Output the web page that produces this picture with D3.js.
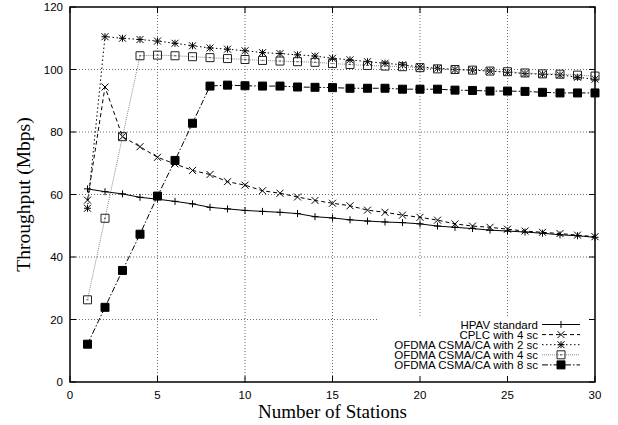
<!DOCTYPE html>
<html>
<head>
<meta charset="utf-8">
<script src="https://cdn.jsdelivr.net/npm/d3@7"></script>
<style>
  body { margin: 0; background: #fff; }
  text { font-family: "Liberation Sans", Arial, sans-serif; }
</style>
</head>
<body>
<div id="chart"></div>
<script>
let width = 618, height = 425;
let margin = {left: 70, right: 23, top: 7, bottom: 43};

// data
let stations = [1,2,3,4,5,6,7,8,9,10,11,12,13,14,15,16,17,18,19,20,21,22,23,24,25,26,27,28,29,30];
let hpav = [61.8,60.9,60.2,59.1,58.5,57.8,57.0,55.9,55.4,54.9,54.6,54.3,53.9,52.9,52.5,51.9,51.5,51.2,51.0,50.6,49.9,49.5,49.1,48.6,48.3,48.0,47.6,47.1,46.8,46.3];
let cplc4 = [58.2,94.4,78.5,75.3,71.9,69.8,67.7,66.4,64.1,63.0,61.2,60.4,59.2,58.1,57.2,56.4,55.0,54.3,53.4,52.7,51.8,50.6,49.9,49.5,48.9,48.3,47.9,47.5,47.0,46.5];
let ofdma2 = [55.6,110.5,110.0,109.6,109.1,108.4,107.6,106.9,106.5,106.0,105.4,105.1,104.7,104.3,103.6,103.1,102.5,102.0,101.5,100.8,100.4,100.0,99.8,99.5,99.1,98.7,98.5,98.3,97.5,96.9];
let ofdma4 = [26.3,52.4,78.5,104.4,104.6,104.4,104.1,103.8,103.5,103.2,102.9,102.7,102.5,102.3,101.9,101.6,101.3,101.1,100.9,100.6,100.2,100.0,99.8,99.5,99.3,98.9,98.6,98.5,98.2,97.9];
let ofdma8 = [12.1,23.9,35.7,47.3,59.5,70.9,82.8,94.7,95.0,94.8,94.7,94.7,94.4,94.3,94.2,94.0,94.0,94.0,93.7,93.7,93.7,93.4,93.3,93.1,93.1,93.0,92.7,92.5,92.5,92.5];

let xTicks = [0,5,10,15,20,25,30];
let yTicks = [0,20,40,60,80,100,120];

let seriesNames = ["HPAV standard", "CPLC with 4 sc", "OFDMA CSMA/CA with 2 sc", "OFDMA CSMA/CA with 4 sc", "OFDMA CSMA/CA with 8 sc"];
let seriesValues = [hpav, cplc4, ofdma2, ofdma4, ofdma8];
let seriesMarks = ["plus", "cross", "star", "box", "fbox"];
let seriesDash = [null, "4,3", "1.5,2.5", "1,1", "6,2,1.5,2"];
let seriesColor = ["#000", "#000", "#000", "#8a8a8a", "#000"];

let svg = d3.select("#chart")
  .append("svg")
  .attr("width", width)
  .attr("height", height);

let x = d3.scaleLinear().domain([0, 30]).range([margin.left, width - margin.right]);
let y = d3.scaleLinear().domain([0, 120]).range([height - margin.bottom, margin.top]);

// grid
let grid = svg.append("g");
xTicks.slice(1, -1).forEach(function (t) {
  grid.append("line")
    .attr("x1", x(t)).attr("x2", x(t))
    .attr("y1", y(0)).attr("y2", y(120))
    .attr("stroke", "#444").attr("stroke-width", 0.8)
    .attr("stroke-dasharray", "1,2");
});
yTicks.slice(1, -1).forEach(function (t) {
  grid.append("line")
    .attr("x1", x(0)).attr("x2", x(30))
    .attr("y1", y(t)).attr("y2", y(t))
    .attr("stroke", "#444").attr("stroke-width", 0.8)
    .attr("stroke-dasharray", "1,2");
});

// key area covers the grid
svg.append("rect")
  .attr("x", 377).attr("y", 316)
  .attr("width", x(30) - 377).attr("height", y(0) - 316)
  .attr("fill", "#fff");

// tick marks, mirrored on all sides
let tk = svg.append("g").attr("stroke", "#000").attr("stroke-width", 1);
xTicks.forEach(function (t) {
  tk.append("line").attr("x1", x(t)).attr("x2", x(t)).attr("y1", y(0)).attr("y2", y(0) - 6);
  tk.append("line").attr("x1", x(t)).attr("x2", x(t)).attr("y1", y(120)).attr("y2", y(120) + 6);
});
yTicks.forEach(function (t) {
  tk.append("line").attr("x1", x(0)).attr("x2", x(0) + 6).attr("y1", y(t)).attr("y2", y(t));
  tk.append("line").attr("x1", x(30)).attr("x2", x(30) - 6).attr("y1", y(t)).attr("y2", y(t));
});

// tick labels
svg.append("g").selectAll("text")
  .data(xTicks).enter().append("text")
  .attr("x", d => x(d)).attr("y", y(0) + 17)
  .attr("text-anchor", "middle")
  .attr("font-size", "11.5px")
  .text(d => d);
svg.append("g").selectAll("text")
  .data(yTicks).enter().append("text")
  .attr("x", x(0) - 7).attr("y", d => y(d) + 4)
  .attr("text-anchor", "end")
  .attr("font-size", "11.5px")
  .text(d => d);

// axis titles
svg.append("text")
  .attr("x", (x(0) + x(30)) / 2).attr("y", 418)
  .attr("text-anchor", "middle")
  .style("font-family", "'Liberation Serif', 'Times New Roman', serif")
  .attr("font-size", "19px")
  .text("Number of Stations");
svg.append("text")
  .attr("transform", `translate(30,${(y(0) + y(120)) / 2}) rotate(-90)`)
  .attr("text-anchor", "middle")
  .style("font-family", "'Liberation Serif', 'Times New Roman', serif")
  .attr("font-size", "19.5px")
  .text("Throughput (Mbps)");

// marker shapes
function markPath(type, cx, cy) {
  let s = 3.5;
  if (type == "plus") {
    return `M${cx - s},${cy}H${cx + s}M${cx},${cy - s}V${cy + s}`;
  }
  if (type == "cross") {
    return `M${cx - s},${cy - s}L${cx + s},${cy + s}M${cx - s},${cy + s}L${cx + s},${cy - s}`;
  }
  if (type == "star") {
    return `M${cx - s},${cy}H${cx + s}M${cx},${cy - s}V${cy + s}` +
      `M${cx - s},${cy - s}L${cx + s},${cy + s}M${cx - s},${cy + s}L${cx + s},${cy - s}`;
  }
  let b = 4;
  return `M${cx - b},${cy - b}H${cx + b}V${cy + b}H${cx - b}Z`;
}

function drawMark(g, type, cx, cy) {
  let p = g.append("path").attr("d", markPath(type, cx, cy));
  if (type == "fbox") {
    p.attr("fill", "#000").attr("stroke", "#000").attr("stroke-width", 1);
  } else if (type == "box") {
    p.attr("fill", "none").attr("stroke", "#222").attr("stroke-width", 1);
    g.append("line").attr("x1", cx - 1).attr("x2", cx + 1).attr("y1", cy).attr("y2", cy)
      .attr("stroke", "#555").attr("stroke-width", 1);
  } else {
    p.attr("fill", "none").attr("stroke", "#000").attr("stroke-width", 1);
  }
}

let line = d3.line()
  .x((d, i) => x(stations[i]))
  .y(d => y(d));

// series
seriesValues.forEach(function (vals, k) {
  let g = svg.append("g");
  g.append("path")
    .datum(vals)
    .attr("d", line)
    .attr("fill", "none")
    .attr("stroke", seriesColor[k])
    .attr("stroke-width", 1)
    .attr("stroke-dasharray", seriesDash[k]);
  vals.forEach(function (v, i) {
    drawMark(g, seriesMarks[k], x(stations[i]), y(v));
  });
});

// key
let key = svg.append("g");
seriesNames.forEach(function (name, k) {
  let ky = 324.5 + k * 10.1;
  key.append("text")
    .attr("x", 538).attr("y", ky + 4)
    .attr("text-anchor", "end")
    .attr("font-size", "11.5px")
    .text(name);
  key.append("line")
    .attr("x1", 542).attr("x2", 580)
    .attr("y1", ky).attr("y2", ky)
    .attr("stroke", seriesColor[k])
    .attr("stroke-width", 1)
    .attr("stroke-dasharray", seriesDash[k]);
  drawMark(key, seriesMarks[k], 561, ky);
});

// frame
svg.append("rect")
  .attr("x", x(0)).attr("y", y(120))
  .attr("width", x(30) - x(0)).attr("height", y(0) - y(120))
  .attr("fill", "none")
  .attr("stroke", "#000")
  .attr("stroke-width", 1.5);
</script>
</body>
</html>
